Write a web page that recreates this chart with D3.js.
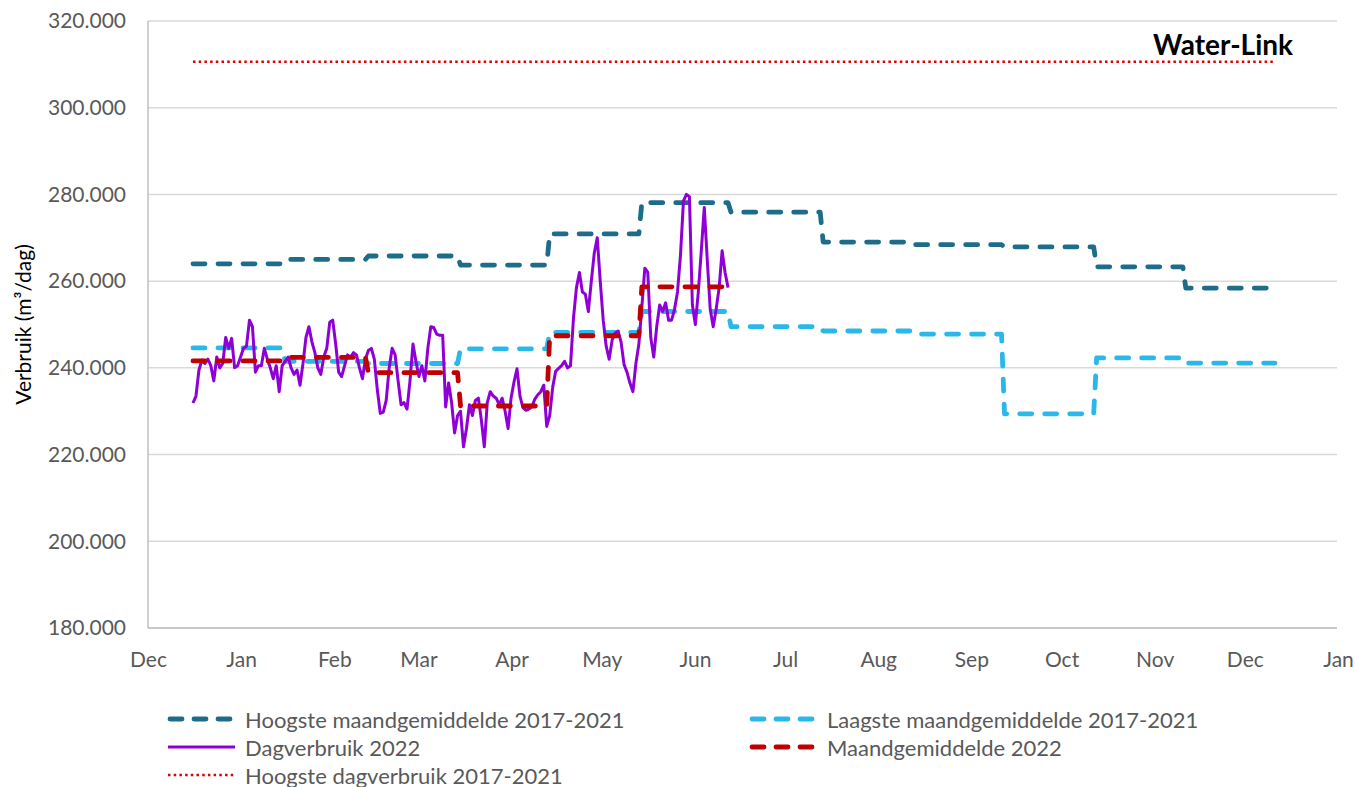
<!DOCTYPE html>
<html>
<head>
<meta charset="utf-8">
<title>Water-Link verbruik</title>
<script src="https://d3js.org/d3.v7.min.js"></script>
<style>
  body { margin: 0; background: #fff; }
  text { font-family: Lato, "Open Sans", sans-serif; }
</style>
</head>
<body>
<div id="chart"></div>
<script>
// waarden in duizend m³/dag
const maanden = ["Jan","Feb","Mar","Apr","May","Jun","Jul","Aug","Sep","Oct","Nov","Dec"];
const hoogsteMaand = [264.0, 265.0, 265.8, 263.7, 270.9, 278.1, 275.9, 269.0, 268.4, 267.9, 263.3, 258.4];
const laagsteMaand = [244.6, 241.5, 241.0, 244.4, 248.2, 253.0, 249.5, 248.5, 247.8, 229.4, 242.3, 241.1];
const maandGem2022 = [241.6, 242.4, 238.9, 231.2, 247.4, 258.7];
const hoogsteDag = 310.6;
// dagverbruik 2022, vanaf 1 januari
const dagverbruik = [
  231.9, 233.5, 239.5, 241.8, 241.0, 242.0, 240.5, 237.0, 242.5, 240.0,
  241.0, 247.0, 244.5, 246.8, 240.0, 240.5, 242.5, 244.5, 245.0, 251.0,
  249.5, 239.0, 240.5, 240.5, 244.5, 242.0, 240.0, 237.5, 240.5, 234.5,
  240.5, 241.5, 242.5, 240.0, 238.5, 239.5, 236.0, 241.0, 247.0, 249.5,
  246.0, 243.5, 240.0, 238.5, 242.5, 244.5, 250.5, 251.0, 245.5, 239.0,
  238.0, 240.5, 243.0, 242.5, 243.5, 243.0, 240.0, 237.5, 242.0, 244.0,
  244.5, 242.0, 235.0, 229.5, 229.8, 232.5, 240.0, 244.5, 243.0, 237.0,
  231.5, 232.0, 230.5, 237.0, 245.5, 241.5, 238.0, 240.5, 237.0, 244.5,
  249.5, 249.3, 247.8, 247.5, 247.5, 231.0, 236.5, 232.0, 225.0, 229.0,
  230.0, 221.8, 226.0, 231.5, 229.0, 232.5, 233.0, 228.0, 221.8, 232.0,
  234.5, 233.5, 233.0, 231.5, 233.0, 230.0, 226.0, 233.0, 236.8, 239.8,
  233.5, 230.8, 230.2, 230.5, 231.0, 232.8, 233.8, 234.5, 236.0, 226.5,
  229.0, 235.5, 239.2, 239.9, 240.5, 241.5, 240.0, 240.5, 251.5, 258.5,
  262.0, 257.5, 257.0, 253.0, 260.0, 266.5, 270.0, 260.0, 251.0, 245.0,
  242.0, 246.4, 248.0, 248.5, 246.0, 240.8, 239.0, 236.5, 234.5, 241.0,
  245.5, 254.0, 263.0, 262.0, 247.0, 242.5, 249.5, 254.5, 253.0, 255.0,
  251.0, 251.0, 253.5, 257.5, 266.0, 278.5, 280.0, 279.5, 254.5, 250.0,
  257.5, 267.0, 277.0, 265.0, 253.5, 249.5, 253.5, 258.5, 267.0, 262.0,
  258.5
];
const yTicks = [180, 200, 220, 240, 260, 280, 300, 320];

const width = 1355, height = 787;
const margin = {top: 21, right: 17, bottom: 159, left: 148};
const w = width - margin.left - margin.right;
const h = height - margin.top - margin.bottom;

const svg = d3.select("#chart").append("svg")
    .attr("width", width)
    .attr("height", height);
const g = svg.append("g")
    .attr("transform", "translate(" + margin.left + "," + margin.top + ")");

// as met maandlabels loopt van dec 2021 tot jan 2023, data van 1 jan tot 31 dec 2022
const xAxisScale = d3.scaleTime()
    .domain([new Date(2021, 11, 1), new Date(2023, 0, 1)])
    .range([0, w]);
const x = d3.scaleTime()
    .domain([new Date(2022, 0, 1), new Date(2022, 11, 31)])
    .range([45, 1127]);
const y = d3.scaleLinear().domain([180, 320]).range([h, 0]);

const nl = d3.formatLocale({decimal: ",", thousands: ".", grouping: [3], currency: ["€", ""]});
const fmt = nl.format(",");

// rasterlijnen
g.selectAll(".grid").data(yTicks).enter().append("line")
    .attr("x1", 0).attr("x2", w - 1)
    .attr("y1", d => y(d)).attr("y2", d => y(d))
    .attr("stroke", "#d9d9d9").attr("stroke-width", 1.5);
g.append("line")
    .attr("x1", 0).attr("x2", 0).attr("y1", 0).attr("y2", h)
    .attr("stroke", "#bfbfbf").attr("stroke-width", 1.5);
g.append("line")
    .attr("x1", 0).attr("x2", w - 1).attr("y1", h).attr("y2", h)
    .attr("stroke", "#bfbfbf").attr("stroke-width", 1.5);

// y-as
const yAxis = g.append("g").call(d3.axisLeft(y).tickValues(yTicks).tickFormat(d => fmt(d * 1000)).tickSize(0).tickPadding(22));
yAxis.select(".domain").remove();
yAxis.selectAll("text").attr("font-size", 21).attr("fill", "#595959")
    .style("font-family", "Lato, sans-serif");

// x-as
const xAxis = g.append("g").attr("transform", "translate(0," + h + ")")
    .call(d3.axisBottom(xAxisScale).ticks(d3.timeMonth.every(1)).tickFormat(d3.timeFormat("%b")).tickSize(0).tickPadding(24));
xAxis.select(".domain").remove();
xAxis.selectAll("text").attr("font-size", 21).attr("fill", "#595959")
    .style("font-family", "Lato, sans-serif");

// as-titel
svg.append("text")
    .attr("transform", "translate(22," + (margin.top + y(250)) + ") rotate(-90)")
    .attr("text-anchor", "middle")
    .attr("dominant-baseline", "central")
    .attr("font-size", 21)
    .attr("fill", "#000")
    .text("Verbruik (m³/dag)");

// maandwaarden als trappen: eerste en laatste dag van elke maand
function trap(values) {
    return values.flatMap((v, i) => [
        {date: new Date(2022, i, 1), v: v},
        {date: new Date(2022, i + 1, 0), v: v}
    ]);
}
const dagen = dagverbruik.map((v, i) => ({date: d3.timeDay.offset(new Date(2022, 0, 1), i), v: v}));

const line = d3.line().x(d => x(d.date)).y(d => y(d.v));

const series = [
    {name: "Hoogste maandgemiddelde 2017-2021", data: trap(hoogsteMaand), color: "#1d6d8a", width: 4.8, dash: "12,13", cap: "round"},
    {name: "Laagste maandgemiddelde 2017-2021", data: trap(laagsteMaand), color: "#2ab7ea", width: 4.8, dash: "12,13", cap: "round"},
    {name: "Dagverbruik 2022", data: dagen, color: "#8f00d6", width: 3, dash: null, cap: "butt"},
    {name: "Maandgemiddelde 2022", data: trap(maandGem2022), color: "#c00000", width: 4.8, dash: "12,13", cap: "round"},
    {name: "Hoogste dagverbruik 2017-2021",
     data: [{date: new Date(2022, 0, 1), v: hoogsteDag}, {date: new Date(2022, 11, 31), v: hoogsteDag}],
     color: "#e00000", width: 2.5, dash: "2.5,3.2", cap: "butt"}
];

series.forEach(s => {
    g.append("path")
        .datum(s.data)
        .attr("d", line)
        .attr("fill", "none")
        .attr("stroke", s.color)
        .attr("stroke-width", s.width)
        .attr("stroke-dasharray", s.dash)
        .attr("stroke-linecap", s.cap)
        .attr("stroke-linejoin", "round");
});

// titel rechtsboven
svg.append("text")
    .attr("x", 1293).attr("y", 44)
    .attr("text-anchor", "end")
    .attr("dominant-baseline", "central")
    .attr("font-size", 28)
    .attr("font-weight", "bold")
    .attr("fill", "#000")
    .text("Water-Link");

// legenda
const legendPos = [
    {x: 168, y: 719}, {x: 750, y: 719},
    {x: 168, y: 747}, {x: 750, y: 747},
    {x: 168, y: 775}
];
series.forEach((s, i) => {
    const p = legendPos[i];
    const lg = svg.append("g").attr("transform", "translate(" + p.x + "," + p.y + ")");
    lg.append("line")
        .attr("x1", s.cap === "round" ? 2 : 0).attr("x2", 67).attr("y1", 0).attr("y2", 0)
        .attr("stroke", s.color)
        .attr("stroke-width", s.width)
        .attr("stroke-dasharray", s.cap === "round" ? "12,12" : s.dash)
        .attr("stroke-linecap", s.cap);
    lg.append("text")
        .attr("x", 77).attr("y", 0)
        .attr("dominant-baseline", "central")
        .attr("font-size", 22)
        .attr("fill", "#595959")
        .text(s.name);
});
</script>
</body>
</html>
